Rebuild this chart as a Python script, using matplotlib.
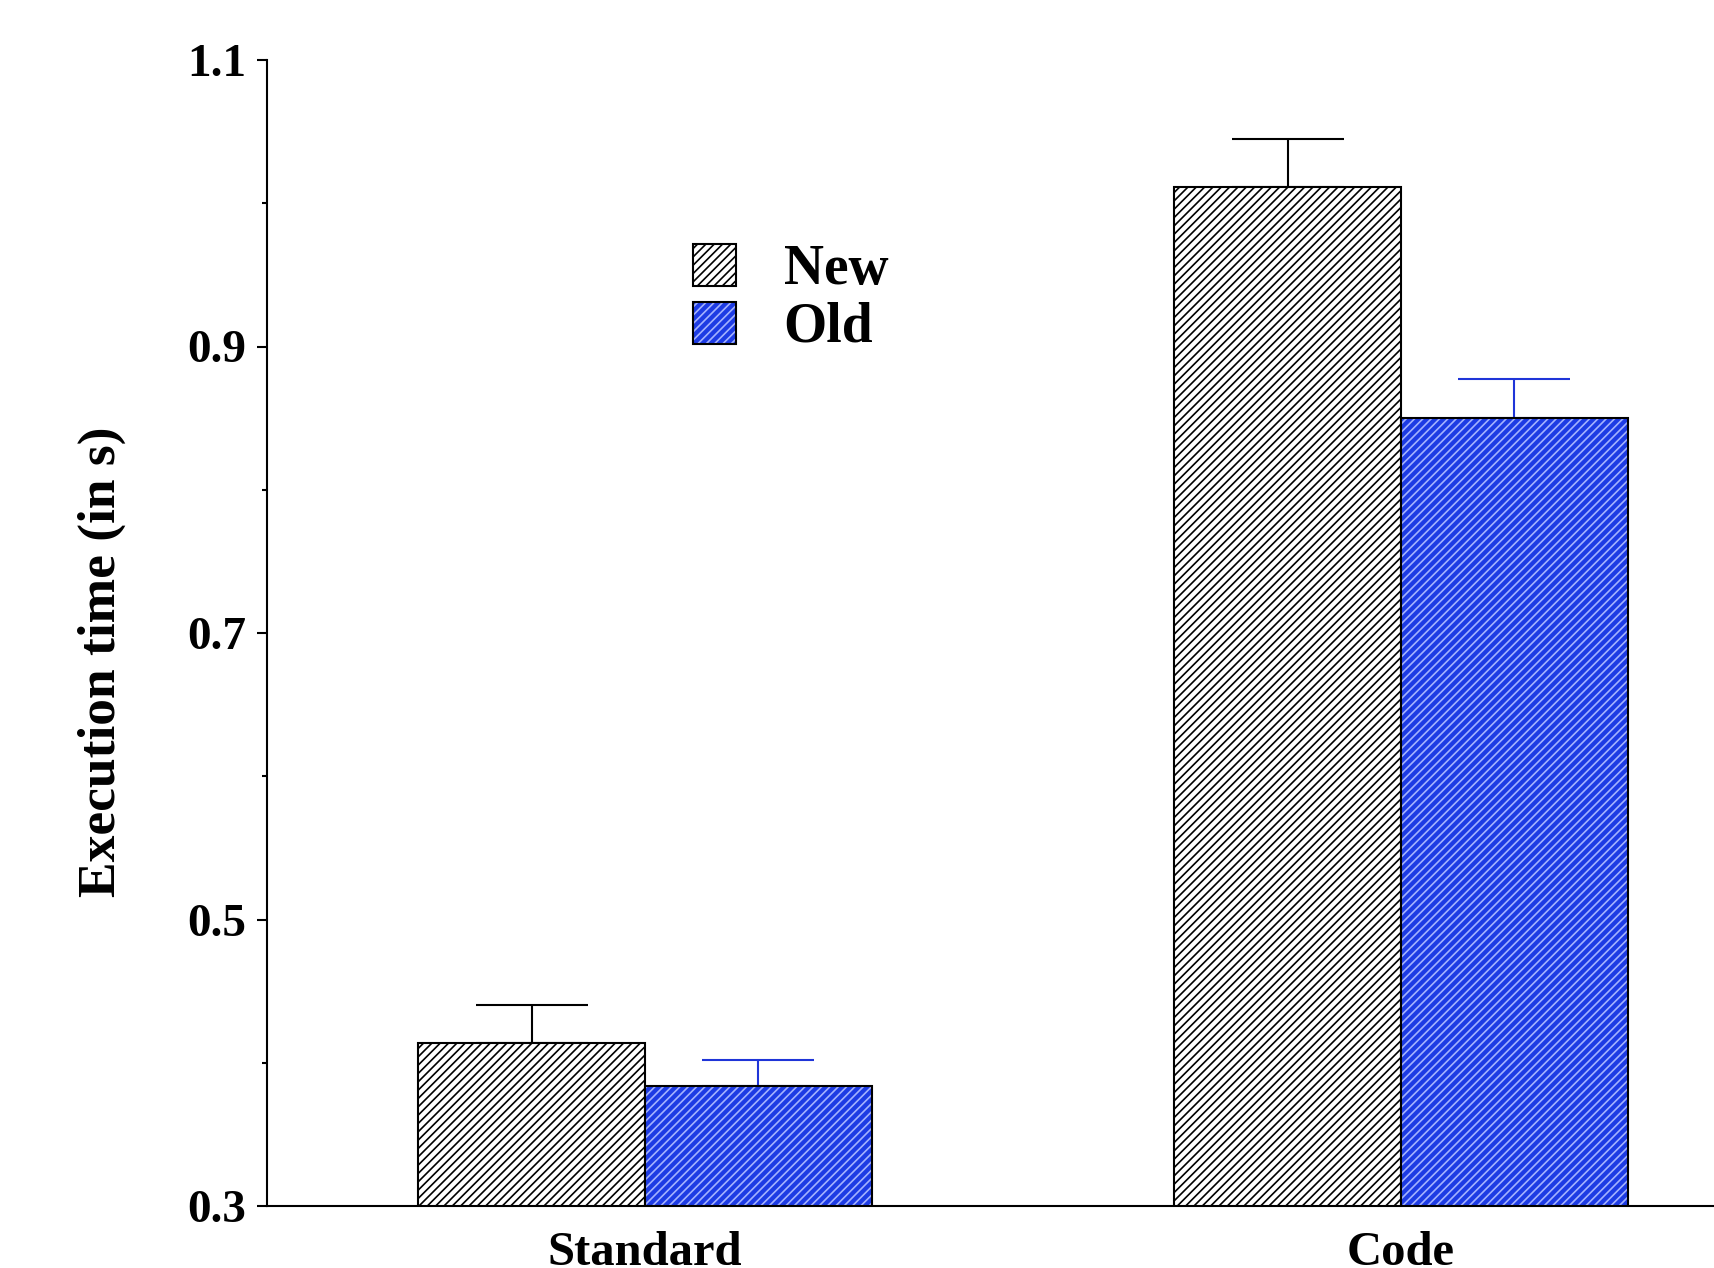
import matplotlib
matplotlib.use("Agg")
import matplotlib.pyplot as plt
import matplotlib.patches as mpatches
import numpy as np

plt.rcParams['font.family'] = ['Liberation Serif', 'DejaVu Serif']
plt.rcParams['font.weight'] = 'bold'
plt.rcParams['hatch.linewidth'] = 1.2

# data
categories = ['Standard', 'Code']
series = ['New', 'Old']
new_vals = [0.414, 1.011]
new_err = [0.026, 0.034]
old_vals = [0.384, 0.850]
old_err = [0.018, 0.027]

blue = '#1d3be4'
blue_hatch = '#a4b2ff'
blue_err = '#1f35d8'

fig = plt.figure(figsize=(17.14, 12.68), dpi=100)
ax = fig.add_axes([267 / 1714, 62 / 1268, 1512 / 1714, 1146 / 1268])

x = np.arange(len(categories))
w = 0.3

# error bars under the bars so the lower caps are hidden
ax.errorbar(x - w / 2, new_vals, yerr=[np.zeros(len(x)), new_err], fmt='none',
            ecolor='black', elinewidth=1.5, capsize=40, capthick=1.5, zorder=1)
ax.errorbar(x + w / 2, old_vals, yerr=[np.zeros(len(x)), old_err], fmt='none',
            ecolor=blue_err, elinewidth=1.5, capsize=40, capthick=1.5, zorder=1)

ax.bar(x - w / 2, new_vals, w, bottom=0, facecolor='white', edgecolor='black',
       hatch='////', linewidth=1.5, zorder=2)
ax.bar(x + w / 2, old_vals, w, bottom=0, facecolor=blue, edgecolor=blue_hatch,
       hatch='////', linewidth=0, zorder=2)
ax.bar(x + w / 2, old_vals, w, bottom=0, fill=False, edgecolor='black',
       linewidth=1.5, zorder=3)

ax.set_xlim(-0.5, 1.5)
ax.set_ylim(0.3, 1.1)
ax.set_yticks([0.3, 0.5, 0.7, 0.9, 1.1])
ax.set_yticks([0.4, 0.6, 0.8, 1.0], minor=True)
ax.set_yticklabels(['0.3', '0.5', '0.7', '0.9', '1.1'], fontsize=34, fontweight='bold')
ax.set_xticks(x)
ax.set_xticklabels(categories, fontsize=35, fontweight='bold')
ax.tick_params(axis='y', which='major', length=10 * 0.72, width=1.5, pad=8, direction='out')
ax.tick_params(axis='y', which='minor', length=5 * 0.72, width=1.5, direction='out')
ax.tick_params(axis='x', length=0, pad=18)

for s in ['top', 'right']:
    ax.spines[s].set_visible(False)
for s in ['left', 'bottom']:
    ax.spines[s].set_linewidth(1.5)

ax.set_ylabel('Execution time (in s)', fontsize=38.5, fontweight='bold')
ax.yaxis.set_label_coords(-0.093, 0.475)

h_new = mpatches.Patch(facecolor='white', edgecolor='black', hatch='////', linewidth=1.5)
h_old = (mpatches.Patch(facecolor=blue, edgecolor=blue_hatch, hatch='////', linewidth=0),
         mpatches.Patch(fill=False, edgecolor='black', linewidth=1.5))
ax.legend([h_new, h_old], series, loc='upper left',
          bbox_to_anchor=(693 / 1714, 1 - 244 / 1268), bbox_transform=fig.transFigure,
          frameon=False, handlelength=0.78, handleheight=0.78,
          handletextpad=0.85, labelspacing=0.1, borderpad=0, borderaxespad=0,
          prop={'size': 40, 'weight': 'bold'})

fig.savefig('out.png', dpi=100)
